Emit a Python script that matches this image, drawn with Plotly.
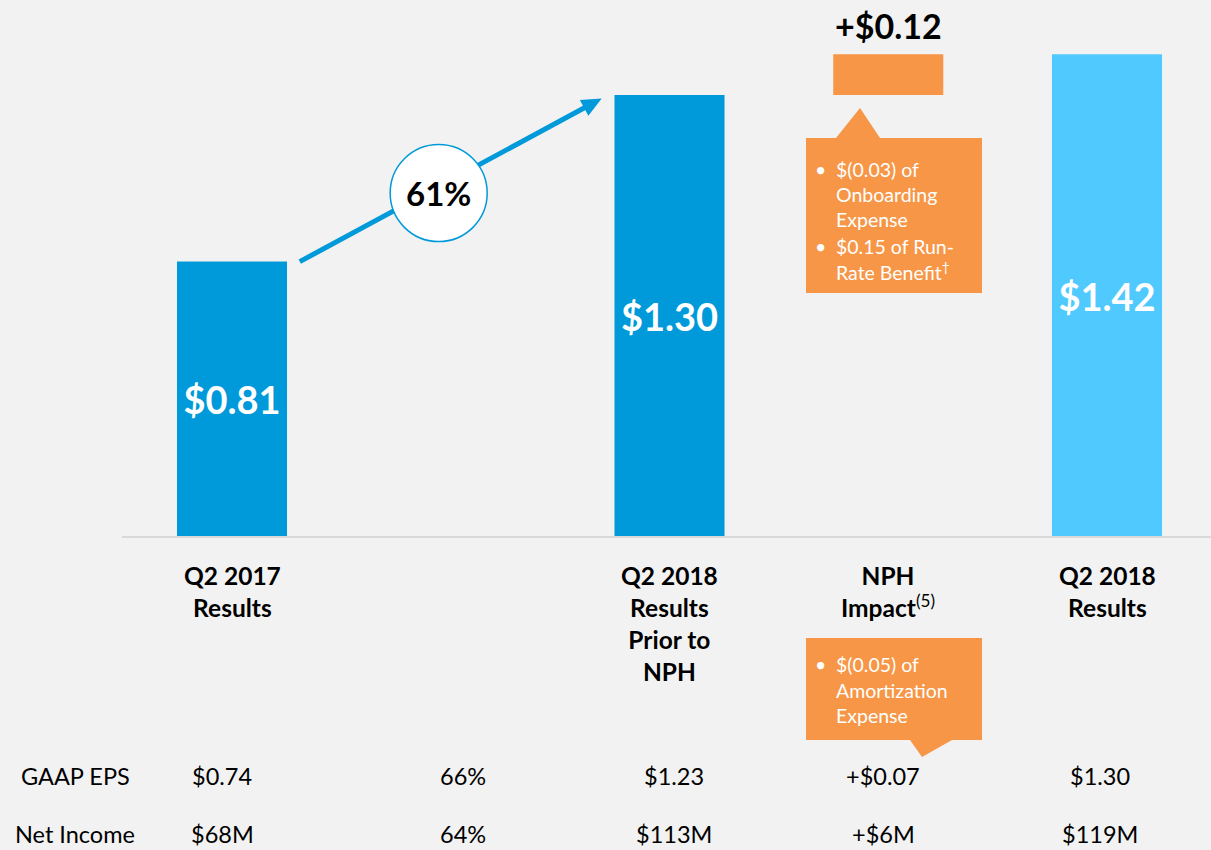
import math
import plotly.graph_objects as go

# ---------------- data ----------------
categories = ["Q2 2017<br>Results", "", "Q2 2018<br>Results<br>Prior to<br>NPH",
              "NPH<br>Impact<sup>(5)</sup>", "Q2 2018<br>Results"]
bar_slots = [0, 2, 3, 4]
eps_values = [0.81, 1.30, 0.12, 1.42]
eps_base = [0, 0, 1.30, 0]
bar_labels = ["$0.81", "$1.30", "+$0.12", "$1.42"]
growth_label = "61%"
row_names = ["GAAP EPS", "Net Income"]
gaap_eps = ["$0.74", "66%", "$1.23", "+$0.07", "$1.30"]
net_income = ["$68M", "64%", "$113M", "+$6M", "$119M"]
onboarding_notes = ["$(0.03) of", "Onboarding", "Expense", "$0.15 of Run-", "Rate Benefit<sup>†</sup>"]
amort_notes = ["$(0.05) of", "Amortization", "Expense"]

# ---------------- style ----------------
W, H = 1211, 850
BG = "#f2f2f2"
BLUE = "#0099da"
LIGHT = "#50c9ff"
ORANGE = "#f79646"
FONT = "Lato"
SLOT = 218.75
X0PX = 232
BASEPX = 537
PXPERUNIT = 340

def px(x):
    return x / W

def py(y):
    return 1 - y / H

def data_to_px(x, y):
    return X0PX + x * SLOT, BASEPX - y * PXPERUNIT

def bold(s):
    return "<b>" + s.replace("<sup>", "</b><sup>").replace("</sup>", "</sup><b>") + "</b>"

fig = go.Figure()

# blue bars
fig.add_trace(go.Bar(
    x=[bar_slots[i] for i in (0, 1)], y=[eps_values[i] for i in (0, 1)],
    base=[eps_base[i] for i in (0, 1)], width=0.503,
    marker=dict(color=BLUE, line=dict(width=0)),
    text=[bar_labels[i] for i in (0, 1)], textposition="inside",
    insidetextanchor="middle", constraintext="none",
    textfont=dict(family=FONT, size=38, color="white", weight="bold"),
    hoverinfo="skip", showlegend=False))
# orange increment
fig.add_trace(go.Bar(
    x=[bar_slots[2]], y=[eps_values[2]], base=[eps_base[2]], width=0.503,
    marker=dict(color=ORANGE, line=dict(width=0)),
    hoverinfo="skip", showlegend=False))
# light blue total
fig.add_trace(go.Bar(
    x=[bar_slots[3]], y=[eps_values[3]], base=[eps_base[3]], width=0.503,
    marker=dict(color=LIGHT, line=dict(width=0)),
    text=[bar_labels[3]], textposition="inside",
    insidetextanchor="middle", constraintext="none",
    textfont=dict(family=FONT, size=38, color="white", weight="bold"),
    hoverinfo="skip", showlegend=False))

annotations = []
shapes = []

# +$0.12 label above orange bar
annotations.append(dict(
    x=bar_slots[2], y=eps_base[2] + eps_values[2], xref="x", yref="y",
    text="<b>" + bar_labels[2] + "</b>", showarrow=False,
    yanchor="bottom", yshift=6,
    font=dict(family=FONT, size=34, color="black")))

# growth arrow from top of first bar to top of second (shapes so the circle can sit on top)
ax0 = bar_slots[0] + 0.31
ay0 = eps_values[0]
ax1 = bar_slots[1] - 0.31
ay1 = eps_values[1] - 0.01
sx, sy = data_to_px(ax0, ay0)
ex, ey = data_to_px(ax1, ay1)
L = math.hypot(ex - sx, ey - sy)
ux, uy = (ex - sx) / L, (ey - sy) / L
head_len, head_half = 20, 9
bx, by = ex - ux * head_len, ey - uy * head_len
nx, ny = -uy, ux
shapes.append(dict(type="line", xref="paper", yref="paper",
                   x0=px(sx), y0=py(sy), x1=px(bx + ux * 2), y1=py(by + uy * 2),
                   line=dict(color=BLUE, width=5), layer="above"))
shapes.append(dict(type="path", xref="paper", yref="paper",
                   path=f"M {px(ex)} {py(ey)} L {px(bx + nx * head_half)} {py(by + ny * head_half)} "
                        f"L {px(bx - nx * head_half)} {py(by - ny * head_half)} Z",
                   fillcolor=BLUE, line=dict(width=0), layer="above"))

# circle with 61%
cx = ax0 + 0.46 * (ax1 - ax0)
cy = ay0 + 0.42 * (ay1 - ay0)
rx = 48.5 / SLOT
ry = 48.5 / PXPERUNIT
shapes.append(dict(type="circle", xref="x", yref="y",
                   x0=cx - rx, x1=cx + rx, y0=cy - ry, y1=cy + ry,
                   fillcolor="white", line=dict(color=BLUE, width=1.5), layer="above"))
annotations.append(dict(x=cx, y=cy, xref="x", yref="y", text="<b>" + growth_label + "</b>",
                        showarrow=False, font=dict(family=FONT, size=33, color="black")))

# baseline
shapes.append(dict(type="line", xref="paper", yref="y", x0=px(122), x1=1, y0=0, y1=0,
                   line=dict(color="#d9d9d9", width=2), layer="above"))

# category labels
for i, lab in enumerate(categories):
    if not lab:
        continue
    annotations.append(dict(x=i, y=0, xref="x", yref="y", text=bold(lab),
                            showarrow=False, yanchor="top", yshift=-22,
                            font=dict(family=FONT, size=24.5, color="black")))

# callout 1 (above)
shapes.append(dict(type="path", xref="paper", yref="paper",
                   path=f"M {px(806)} {py(138)} L {px(836)} {py(138)} L {px(860)} {py(108)} "
                        f"L {px(880)} {py(138)} L {px(982)} {py(138)} L {px(982)} {py(293)} "
                        f"L {px(806)} {py(293)} Z",
                   fillcolor=ORANGE, line=dict(width=0), layer="above"))
ys1 = [170, 195, 220, 246, 271]
for t, yy in zip(onboarding_notes, ys1):
    annotations.append(dict(x=px(834), y=py(yy), xref="paper", yref="paper", text=t,
                            showarrow=False, xanchor="left", yanchor="middle",
                            font=dict(family=FONT, size=19.5, color="white")))
for yy in (ys1[0], ys1[3]):
    annotations.append(dict(x=px(820), y=py(yy), xref="paper", yref="paper", text="•",
                            showarrow=False, xanchor="center", yanchor="middle",
                            font=dict(family=FONT, size=19.5, color="white")))

# callout 2 (below)
shapes.append(dict(type="path", xref="paper", yref="paper",
                   path=f"M {px(806)} {py(638)} L {px(982)} {py(638)} L {px(982)} {py(740)} "
                        f"L {px(952)} {py(740)} L {px(922)} {py(757)} L {px(910)} {py(740)} "
                        f"L {px(806)} {py(740)} Z",
                   fillcolor=ORANGE, line=dict(width=0), layer="above"))
ys2 = [664, 690, 715]
for t, yy in zip(amort_notes, ys2):
    annotations.append(dict(x=px(834), y=py(yy), xref="paper", yref="paper", text=t,
                            showarrow=False, xanchor="left", yanchor="middle",
                            font=dict(family=FONT, size=19.5, color="white")))
annotations.append(dict(x=px(820), y=py(ys2[0]), xref="paper", yref="paper", text="•",
                        showarrow=False, xanchor="center", yanchor="middle",
                        font=dict(family=FONT, size=19.5, color="white")))

# bottom table
row_y = [776, 834]
row_label_x = [75, 75]
for name, yy, lx in zip(row_names, row_y, row_label_x):
    annotations.append(dict(x=px(lx), y=py(yy), xref="paper", yref="paper", text=name,
                            showarrow=False, xanchor="center", yanchor="middle",
                            font=dict(family=FONT, size=23.5, color="black")))
shifts = [-10, 12, 4, -5, -7]
for row, yy in zip([gaap_eps, net_income], row_y):
    for i, v in enumerate(row):
        annotations.append(dict(x=i, y=py(yy), xref="x", yref="paper", text=v,
                                showarrow=False, xanchor="center", yanchor="middle",
                                xshift=shifts[i],
                                font=dict(family=FONT, size=23.5, color="black")))

xr = [-X0PX / SLOT, (W - X0PX) / SLOT]
yr = [-(H - BASEPX) / PXPERUNIT, BASEPX / PXPERUNIT]

fig.update_layout(
    width=W, height=H,
    margin=dict(l=0, r=0, t=0, b=0),
    paper_bgcolor=BG, plot_bgcolor=BG,
    barmode="overlay",
    xaxis=dict(range=xr, visible=False, fixedrange=True),
    yaxis=dict(range=yr, visible=False, fixedrange=True),
    shapes=shapes, annotations=annotations,
    font=dict(family=FONT),
)

fig.write_html("out.html", config={"displayModeBar": False},
               post_script="document.body.style.margin='0';document.body.style.overflow='hidden';")
